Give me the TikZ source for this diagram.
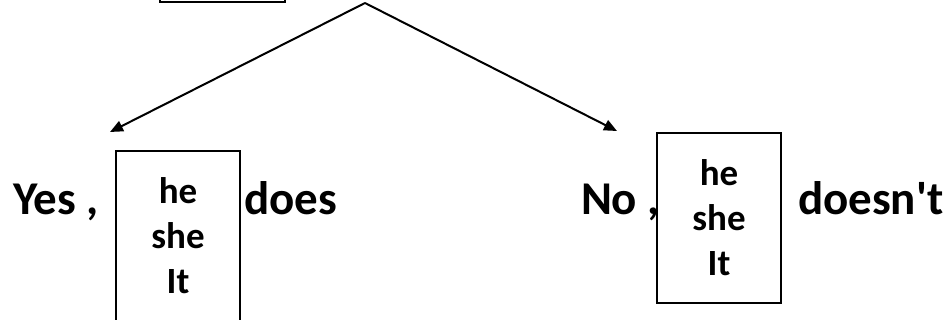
\documentclass[tikz,border=0pt]{standalone}
\usepackage{fontspec}
\setmainfont{Carlito}
\usetikzlibrary{arrows.meta}

\begin{document}
\begin{tikzpicture}[x=1pt, y=1pt, line width=2pt,
	arrows={-Triangle[length=13pt,width=11pt]},
	word/.style={anchor=base west, inner sep=0pt, font=\fontsize{47}{56}\selectfont\bfseries},
	pronbox/.style={draw, -, line width=1.5pt, minimum width=124pt, minimum height=170pt, align=center, inner sep=0pt, font=\fontsize{37}{45}\selectfont\bfseries}]
	\clip (0,0) rectangle (949,320);

	\node [pronbox, anchor=south west, minimum width=125pt, minimum height=40pt] (ask) at (159,317) {};
	\coordinate (apex) at (365,317);
	\coordinate (yestip) at (110,188);
	\coordinate (notip) at (617,189);

	\node [word] (yes) at (12,105) {Yes ,};
	\node [pronbox] (yesbox) at (178,84) {he\\she\\It};
	\node [word] (does) at (243,105) {does};

	\node [word] (no) at (580,105) {No ,};
	\node [pronbox] (nobox) at (719,102) {he\\she\\It};
	\node [word] (doesnt) at (797,105) {doesn\textquotesingle t};

	\draw (apex) -- (yestip);
	\draw (apex) -- (notip);
\end{tikzpicture}
\end{document}
